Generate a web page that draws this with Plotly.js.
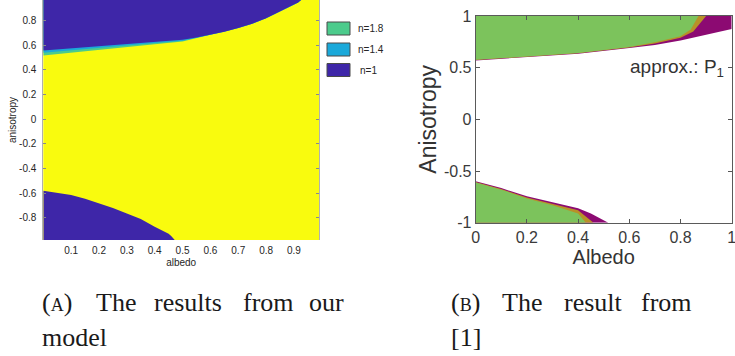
<!DOCTYPE html>
<html>
<head>
<meta charset="utf-8">
<script src="https://cdn.plot.ly/plotly-3.0.1.min.js"></script>
<style>html,body{margin:0;padding:0;background:#fff;}#chart{width:735px;height:356px;}</style>
</head>
<body>
<div id="chart"></div>
<script>
// ---------- Panel A: results from our model (boundaries) ----------
const albedoA_upper = [0, 0.1, 0.2, 0.3, 0.4, 0.5, 0.55, 0.6, 0.65, 0.7, 0.75, 0.8, 0.85, 0.875, 0.9, 0.915, 0.93];
const n1_upper   = [0.558, 0.575, 0.592, 0.612, 0.628, 0.645, 0.663, 0.685, 0.71, 0.74, 0.775, 0.82, 0.875, 0.90, 0.93, 0.948, 0.975];
const n14_upper  = [0.540, 0.558, 0.578, 0.600, 0.618, 0.638, 0.660, 0.685, 0.71, 0.74, 0.775, 0.82, 0.875, 0.90, 0.93, 0.948, 0.975];
const n18_upper  = [0.518, 0.542, 0.565, 0.590, 0.609, 0.631, 0.657, 0.685, 0.71, 0.74, 0.775, 0.82, 0.875, 0.90, 0.93, 0.948, 0.975];
const albedoA_lower = [0, 0.05, 0.1, 0.15, 0.2, 0.25, 0.3, 0.35, 0.4, 0.425, 0.45, 0.46, 0.48];
const n1_lower   = [-0.58, -0.595, -0.615, -0.645, -0.683, -0.72, -0.765, -0.81, -0.873, -0.90, -0.93, -0.95, -1.0];

const legendLabelsA = ['n=1.8', 'n=1.4', 'n=1'];
const colorsA = {n18: '#4CCB8C', n14: '#1AA9DA', n1: '#3E26A8', valid: '#F9FB0E'};

const xTickValsA = [0.1, 0.2, 0.3, 0.4, 0.5, 0.6, 0.7, 0.8, 0.9];
const xTickTextA = ['0.1', '0.2', '0.3', '0.4', '0.5', '0.6', '0.7', '0.8', '0.9'];
const yTickValsA = [-0.8, -0.6, -0.4, -0.2, 0, 0.2, 0.4, 0.6, 0.8];
const yTickTextA = ['-0.8', '-0.6', '-0.4', '-0.2', '0', '0.2', '0.4', '0.6', '0.8'];

// ---------- Panel B: result from [1] ----------
const magentaUpperX = [0, 0.2, 0.4, 0.6, 0.7, 0.8, 0.9, 1.0];
const magentaUpperY = [0.57, 0.60, 0.635, 0.69, 0.72, 0.762, 0.815, 0.875];
const oliveUpperX   = [0, 0.2, 0.4, 0.6, 0.7, 0.8, 0.85, 0.9];
const oliveUpperY   = [0.574, 0.605, 0.64, 0.695, 0.735, 0.79, 0.85, 1.0];
const greenUpperX   = [0, 0.2, 0.4, 0.6, 0.7, 0.8, 0.84, 0.87];
const greenUpperY   = [0.576, 0.607, 0.642, 0.70, 0.745, 0.805, 0.87, 1.0];

const magentaLowerX = [0, 0.1, 0.2, 0.3, 0.4, 0.45, 0.5, 0.518];
const magentaLowerY = [-0.60, -0.665, -0.745, -0.80, -0.86, -0.91, -0.975, -1.0];
const oliveLowerX   = [0, 0.1, 0.2, 0.3, 0.4, 0.46];
const oliveLowerY   = [-0.605, -0.675, -0.755, -0.815, -0.88, -1.0];
const greenLowerX   = [0, 0.1, 0.2, 0.3, 0.4, 0.43];
const greenLowerY   = [-0.61, -0.68, -0.765, -0.83, -0.91, -1.0];

const colorsB = {green: '#7CC35C', olive: '#B89128', magenta: '#8C0A72'};

const xTickValsB = [0, 0.2, 0.4, 0.6, 0.8, 1];
const xTickTextB = ['0', '0.2', '0.4', '0.6', '0.8', '1'];
const yTickValsB = [-1, -0.5, 0, 0.5, 1];
const yTickTextB = ['-1', '-0.5', '0', '0.5', '1'];

// ---------- helpers ----------
const W = 735, H = 356;
const px = v => v / W;
const py = v => 1 - v / H;

function region(xs, ys, edge, color, xa, ya) {
  return {type: 'scatter', mode: 'lines', xaxis: xa, yaxis: ya,
    x: xs.concat([xs[xs.length - 1], xs[0]]), y: ys.concat([edge, edge]),
    fill: 'toself', fillcolor: color, line: {width: 0, color: color}, hoverinfo: 'skip', showlegend: false};
}

const traces = [
  region(albedoA_upper, n18_upper, 1.0, colorsA.n18, 'x', 'y'),
  region(albedoA_upper, n14_upper, 1.0, colorsA.n14, 'x', 'y'),
  region(albedoA_upper, n1_upper, 1.0, colorsA.n1, 'x', 'y'),
  region(albedoA_lower, n1_lower, -1.0, colorsA.n1, 'x', 'y'),

  region(magentaUpperX, magentaUpperY, 1.0, colorsB.magenta, 'x2', 'y2'),
  region(oliveUpperX, oliveUpperY, 1.0, colorsB.olive, 'x2', 'y2'),
  region(greenUpperX, greenUpperY, 1.0, colorsB.green, 'x2', 'y2'),
  region(magentaLowerX, magentaLowerY, -1.0, colorsB.magenta, 'x2', 'y2'),
  region(oliveLowerX, oliveLowerY, -1.0, colorsB.olive, 'x2', 'y2'),
  region(greenLowerX, greenLowerY, -1.0, colorsB.green, 'x2', 'y2')
];

const sansA = {family: 'Liberation Sans, Arial, sans-serif', size: 10, color: '#262626'};
const sansB = {family: 'Liberation Sans, Arial, sans-serif', size: 16, color: '#3a3a3a'};
const serif = {family: 'Liberation Serif, Times New Roman, serif', size: 26, color: '#1a1a1a'};

// legend of panel A drawn as swatches + labels
const legendSwatchColors = [colorsA.n18, colorsA.n14, colorsA.n1];
const legendRowsY = [28.5, 49.5, 70];
const shapes = [
  {type: 'rect', xref: 'x domain', yref: 'y domain', x0: 0, x1: 1, y0: 0, y1: 1,
   fillcolor: colorsA.valid, line: {width: 0}, layer: 'below'}
];
const annotations = [];
legendLabelsA.forEach((lab, i) => {
  const yc = legendRowsY[i];
  shapes.push({type: 'rect', xref: 'paper', yref: 'paper',
    x0: px(327), x1: px(350), y0: py(yc + 6.5), y1: py(yc - 6.5),
    fillcolor: legendSwatchColors[i], line: {color: '#4a4a4a', width: 1}});
  annotations.push({xref: 'paper', yref: 'paper', x: px(i === 2 ? 358 : 356), y: py(yc),
    xanchor: 'left', yanchor: 'middle', showarrow: false, text: lab, font: sansA});
});

annotations.push({xref: 'paper', yref: 'paper', x: px(726), y: py(68), xanchor: 'right', yanchor: 'middle',
  showarrow: false, text: 'approx.: P<sub>1</sub>', font: {family: 'Liberation Sans, Arial, sans-serif', size: 19, color: '#333'}});

// captions (justified words placed at their positions)
const captionA1 = [['(a)', 43, true], ['The', 97, false], ['results', 155, false], ['from', 244, false], ['our', 310, false]];
const captionA2 = [['model', 43, false]];
const captionB1 = [['(b)', 452, true], ['The', 503, false], ['result', 565, false], ['from', 642, false]];
const captionB2 = [['[1]', 452, false]];
function addLine(words, yc) {
  words.forEach(([t, x, sc]) => {
    annotations.push({xref: 'paper', yref: 'paper', x: px(x - 2), y: py(yc), xanchor: 'left', yanchor: 'middle',
      showarrow: false, text: t, borderpad: 0,
      font: Object.assign({}, serif, sc ? {variant: 'small-caps'} : {})});
  });
}
addLine(captionA1, 302);
addLine(captionA2, 337);
addLine(captionB1, 302);
addLine(captionB2, 337);

const layout = {
  width: W, height: H, margin: {l: 0, r: 0, t: 0, b: 0},
  paper_bgcolor: '#fff', plot_bgcolor: '#fff', showlegend: false,
  xaxis: {domain: [px(43.3), px(319)], range: [0, 0.99], anchor: 'y',
    tickmode: 'array', tickvals: xTickValsA, ticktext: xTickTextA, ticks: '', showline: false,
    showgrid: false, zeroline: false, tickfont: sansA, ticklabelstandoff: 3, ticklabeloverflow: 'allow',
    title: {text: 'albedo', font: sansA, standoff: 3}},
  yaxis: {domain: [py(240), 1], range: [-0.98, 0.968], anchor: 'x',
    tickmode: 'array', tickvals: yTickValsA, ticktext: yTickTextA, ticks: 'inside', ticklen: 3,
    tickcolor: '#8a8a8a', showline: true, linecolor: '#b0b0b0', linewidth: 1, mirror: 'ticks',
    showgrid: false, zeroline: false, tickfont: sansA, ticklabelstandoff: 4, ticklabeloverflow: 'allow',
    title: {text: 'anisotropy', font: sansA, standoff: 0}},
  xaxis2: {domain: [px(475.7), px(731.7)], range: [0, 1], anchor: 'y2',
    tickmode: 'array', tickvals: xTickValsB, ticktext: xTickTextB, ticks: 'inside', ticklen: 4,
    tickcolor: '#555', showline: true, linecolor: '#5a5a5a', linewidth: 1, mirror: 'ticks',
    showgrid: false, zeroline: false, tickfont: sansB, ticklabelstandoff: 0, ticklabeloverflow: 'allow',
    title: {text: 'Albedo', font: {family: 'Liberation Sans, Arial, sans-serif', size: 20, color: '#333'}, standoff: 4}},
  yaxis2: {domain: [py(222.7), py(16)], range: [-1, 1], anchor: 'x2',
    tickmode: 'array', tickvals: yTickValsB, ticktext: yTickTextB, ticks: 'inside', ticklen: 4,
    tickcolor: '#555', showline: true, linecolor: '#5a5a5a', linewidth: 1, mirror: 'ticks',
    showgrid: false, zeroline: false, tickfont: sansB, ticklabelstandoff: 0, ticklabeloverflow: 'allow',
    title: {text: 'Anisotropy', font: {family: 'Liberation Sans, Arial, sans-serif', size: 23, color: '#333'}, standoff: 0}},
  shapes: shapes,
  annotations: annotations
};

Plotly.newPlot('chart', traces, layout, {staticPlot: true, displayModeBar: false});
</script>
</body>
</html>
